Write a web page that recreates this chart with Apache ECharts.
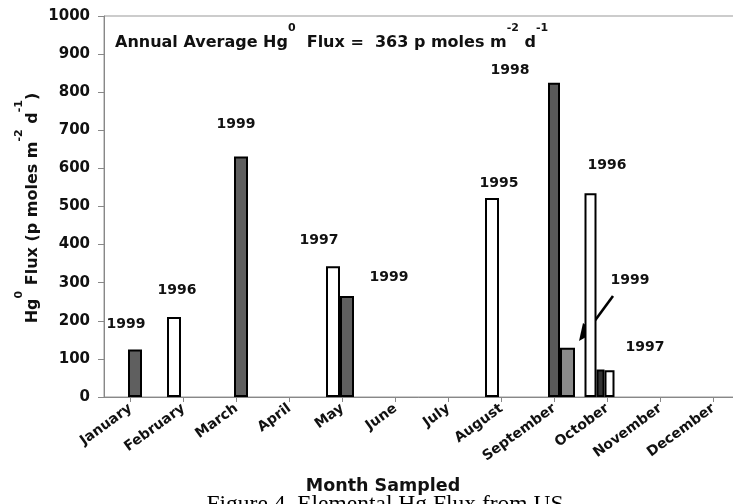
<!DOCTYPE html>
<html><head><meta charset="utf-8">
<script src="https://cdn.jsdelivr.net/npm/echarts@6/dist/echarts.min.js"></script>
<style>html,body{margin:0;padding:0;background:#fff}#c{width:733px;height:504px}</style>
</head><body><div id="c"></div>
<script>
// ---- data ----
const months = ['January','February','March','April','May','June','July','August','September','October','November','December'];
const yMin = 0, yMax = 1000, yStep = 100;
// open (white) bars, left slot
const openBars   = [null, 210, null, null, 343, null, null, 522, null, null, null, null];
// filled (dark) bars, right slot
const filledBars = [125, null, 631, null, 265, null, null, null, null, null, null, null];
// September pair
const sep1998 = [null, null, null, null, null, null, null, null, 825, null, null, null];
const sep1999 = [null, null, null, null, null, null, null, null, 129, null, null, null];
// October group
const oct1996 = [null, null, null, null, null, null, null, null, null, 535, null, null];
const oct1999 = [null, null, null, null, null, null, null, null, null, 72, null, null];
const oct1997 = [null, null, null, null, null, null, null, null, null, 70, null, null];
const yearNotes = ['1999','1996','1999','1997','1999','1995','1998','1996','1999','1997'];

// ---- styles ----
const F = 'DejaVu Sans';
const TXT = '#111';
function bar(name, data, xi, w, fill, borderW) {
  return {
    name, type: 'bar', data, xAxisIndex: xi, barWidth: w, barGap: '0%',
    itemStyle: { color: fill, borderColor: '#000', borderWidth: borderW },
    silent: true
  };
}
const cat = (show) => ({
  type: 'category', data: months, gridIndex: 0, boundaryGap: true, show,
  axisLine: { show: true, lineStyle: { color: '#888', width: 1 } },
  axisTick: { show: true, alignWithLabel: true, length: 5, lineStyle: { color: '#888' } },
  axisLabel: { interval: 0, rotate: 36, margin: 10, fontFamily: F, fontWeight: 'bold', fontSize: 14, color: TXT },
  splitLine: { show: false }
});
const sup = { fontFamily: F, fontWeight: 'bold', fontSize: 11, color: TXT, padding: [0, 0, 28, 0] };
const noteXY = [[126,324],[177,290],[236,124],[319,240],[389,277],[499,183],[510,70],[607,165],[630,280],[645,347]];

const chart = echarts.init(document.getElementById('c'), null, { renderer: 'canvas' });
chart.setOption({
  animation: false,
  backgroundColor: '#fff',
  grid: { left: 104, top: 16, width: 636, height: 381, outerBoundsMode: 'none', containLabel: false,
          show: true, borderColor: '#999', borderWidth: 1, backgroundColor: 'transparent' },
  xAxis: [cat(true), cat(false), cat(false)],
  yAxis: {
    type: 'value', min: yMin, max: yMax, interval: yStep,
    axisLine: { show: true, lineStyle: { color: '#888', width: 1 } },
    axisTick: { show: true, length: 6, lineStyle: { color: '#888' } },
    axisLabel: { margin: 14, fontFamily: F, fontWeight: 'bold', fontSize: 15, color: TXT, formatter: (v) => String(v) },
    splitLine: { show: false }
  },
  series: [
    bar('open', openBars, 0, 14, '#fff', 2),
    bar('filled', filledBars, 0, 14, '#5f5f5f', 2),
    bar('pad0', [], 0, 5, 'transparent', 0),
    bar('pad1', [], 1, 14, 'transparent', 0),
    bar('Sep 1998', sep1998, 1, 12, '#5a5a5a', 2),
    bar('Sep 1999', sep1999, 1, 15, '#8a8a8a', 2),
    bar('Oct 1996', oct1996, 2, 12, '#fff', 2),
    bar('Oct 1999', oct1999, 2, 8, '#333', 2),
    bar('Oct 1997', oct1997, 2, 10, '#fff', 2),
    bar('pad2', [], 2, 16, 'transparent', 0)
  ],
  graphic: [
    {
      type: 'text', left: 115, top: 43 - 20, silent: true,
      style: {
        text: 'Annual Average Hg{s|0}  Flux =  363 p moles m{s|-2} d{s|-1}',
        fontFamily: F, fontWeight: 'bold', fontSize: 16, fill: TXT,
        rich: { s: sup }
      }
    },
    {
      type: 'text', x: 33, y: 208, rotation: Math.PI / 2, silent: true,
      style: {
        text: 'Hg{s|0} Flux (p moles m{s|-2} d{s|-1})',
        fontFamily: F, fontWeight: 'bold', fontSize: 16, fill: TXT,
        align: 'center', verticalAlign: 'middle',
        rich: { s: Object.assign({}, sup, { fontSize: 11 }) }
      }
    },
    {
      type: 'text', x: 383, y: 486, silent: true,
      style: { text: 'Month Sampled', fontFamily: F, fontWeight: 'bold', fontSize: 17.5, fill: TXT, align: 'center', verticalAlign: 'middle' }
    },
    {
      type: 'text', x: 385, y: 505, silent: true,
      style: { text: 'Figure 4. Elemental Hg Flux from US', fontFamily: 'Liberation Serif', fontSize: 23.5, fill: '#000', align: 'center', verticalAlign: 'middle' }
    },
    ...yearNotes.map((t, i) => ({
      type: 'text', x: noteXY[i][0], y: noteXY[i][1], silent: true,
      style: { text: t, fontFamily: F, fontWeight: 'bold', fontSize: 14, fill: TXT, align: 'center', verticalAlign: 'middle' }
    })),
    {
      type: 'line', silent: true,
      shape: { x1: 613, y1: 296, x2: 588, y2: 330 },
      style: { stroke: '#000', lineWidth: 2.6 }
    },
    {
      type: 'polygon', silent: true,
      shape: { points: [[579, 341], [595, 332], [583, 323]] },
      style: { fill: '#000' }
    }
  ]
});
</script></body></html>
